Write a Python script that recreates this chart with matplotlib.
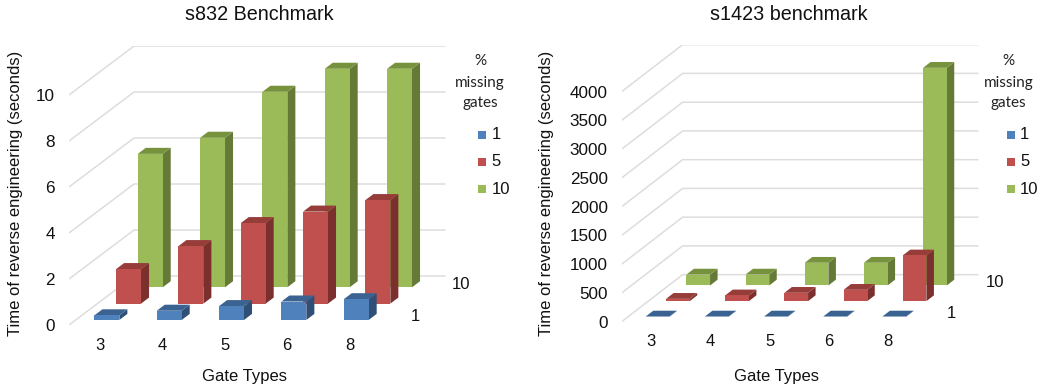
import matplotlib
matplotlib.use("Agg")
import matplotlib.pyplot as plt
from matplotlib.patches import Rectangle

W, H = 1047, 388

gate_types = ['3', '4', '5', '6', '8']
missing = ['1', '5', '10']
colors = ['#4F81BD', '#C0504D', '#9BBB59']
top_colors = ['#3A6391', '#963D3A', '#76923C']
side_colors = ['#2F4F77', '#7C302E', '#667A37']

s832_1 = [0.2, 0.4, 0.6, 0.8, 0.9]
s832_5 = [1.5, 2.5, 3.5, 4.0, 4.5]
s832_10 = [5.8, 6.5, 8.5, 9.5, 9.5]

s1423_1 = [5, 5, 5, 5, 5]
s1423_5 = [40, 100, 145, 197, 795]
s1423_10 = [190, 190, 395, 395, 3785]

s832_ticks = [0, 2, 4, 6, 8, 10]
s1423_ticks = [0, 500, 1000, 1500, 2000, 2500, 3000, 3500, 4000]

plt.rcParams['font.family'] = ['Liberation Sans', 'DejaVu Sans']


def fx(px):
    return px / W


def fy(py):
    return 1 - py / H


def draw_panel(fig, title, series, ticks, x0, y0, cat_px, val_px, row_dx, row_dy,
               title_x, ylabel_x, xlabel_x, legend_x):
    n = len(gate_types)
    rows = len(series)
    vmax = ticks[-1]
    # axes covers the whole box incl. the oblique depth
    width = n * cat_px + rows * row_dx
    height = vmax * val_px + rows * row_dy
    ax = fig.add_axes([fx(x0), fy(y0), width / W, height / H])
    ax.patch.set_visible(False)
    dx = row_dx / cat_px
    dy = row_dy / val_px
    ax.set_xlim(0, n + rows * dx)
    ax.set_ylim(0, vmax + rows * dy)

    def project(x, d, v):
        return x + d * dx, v + d * dy

    # walls
    for t in ticks:
        xs, ys = zip(project(0, 0, t), project(0, rows, t), project(n, rows, t))
        ax.plot(xs, ys, color='#DDDDDD', lw=1.1, zorder=1, solid_capstyle='butt')

    bar_w = 0.4
    bar_d = 0.37
    gap_x = (1 - bar_w) / 2
    gap_d = 0.31
    # back row first so the front ones overlap it
    for r in range(rows - 1, -1, -1):
        for i, val in enumerate(series[r]):
            x1, x2 = i + gap_x, i + gap_x + bar_w
            d1, d2 = r + gap_d, r + gap_d + bar_d
            front = [project(x1, d1, 0), project(x2, d1, 0), project(x2, d1, val), project(x1, d1, val)]
            top = [project(x1, d1, val), project(x2, d1, val), project(x2, d2, val), project(x1, d2, val)]
            side = [project(x2, d1, 0), project(x2, d2, 0), project(x2, d2, val), project(x2, d1, val)]
            z = 2 + (rows - r) * 10 + i
            ax.fill(*zip(*side), color=side_colors[r], lw=0, zorder=z)
            ax.fill(*zip(*top), color=top_colors[r], lw=0, zorder=z)
            ax.fill(*zip(*front), color=colors[r], lw=0, zorder=z)

    for s in ax.spines.values():
        s.set_visible(False)
    ax.set_yticks(ticks)
    ax.set_yticklabels([str(t) for t in ticks], fontsize=12.3, color='#111111')
    ax.set_xticks([i + 0.5 for i in range(n)])
    ax.set_xticklabels(gate_types, fontsize=12, color='#111111')
    ax.tick_params(axis='both', length=0)
    ax.tick_params(axis='y', pad=10)
    ax.tick_params(axis='x', pad=9)

    # series names on the depth axis, only first and last are shown
    for r, off in ((0, 19), (2, 17)):
        ax.annotate(missing[r], xy=project(n, r + 0.5, 0), xytext=(off, 0),
                    textcoords='offset pixels', ha='left', va='center',
                    fontsize=12, color='#111111', annotation_clip=False)

    ax.set_title(title, fontsize=14.2, x=fx(title_x), y=fy(15), va='center',
                 transform=fig.transFigure, color='#111111')
    ax.set_ylabel('Time of reverse engineering (seconds)', fontsize=12, color='#111111')
    ax.yaxis.set_label_coords(fx(ylabel_x), fy(193), transform=fig.transFigure)
    ax.set_xlabel('Gate Types', fontsize=12, color='#111111')
    ax.xaxis.set_label_coords(fx(xlabel_x), fy(376), transform=fig.transFigure)
    ax.xaxis.label.set_va('center')
    ax.yaxis.label.set_va('center')

    # legend
    for py, word in zip((61, 82.5, 103), ('%', 'missing', 'gates')):
        fig.text(fx(legend_x), fy(py), word, ha='center', va='center', fontsize=11,
                 family='Lato', color='#222222')
    for py, c, name in zip((134.5, 161.5, 189), colors, missing):
        fig.add_artist(Rectangle((fx(legend_x - 2), fy(py + 4)), 8 / W, 8 / H,
                                 transform=fig.transFigure, color=c, lw=0))
        fig.text(fx(legend_x + 11.5), fy(py), name, ha='left', va='center', fontsize=12,
                 color='#111111')
    return ax


fig = plt.figure(figsize=(W / 100, H / 100), dpi=100)

draw_panel(fig, 's832 Benchmark', [s832_1, s832_5, s832_10], s832_ticks,
           69, 325, 62.33, 23.0, 21.67, 16.33,
           259, 16, 245, 480)
draw_panel(fig, 's1423 benchmark', [s1423_1, s1423_5, s1423_10], s1423_ticks,
           621.67, 321.67, 59.17, 0.0575, 20.33, 15.67,
           788.5, 547, 777, 1008.5)

fig.savefig('out.png', dpi=100, facecolor='white')
